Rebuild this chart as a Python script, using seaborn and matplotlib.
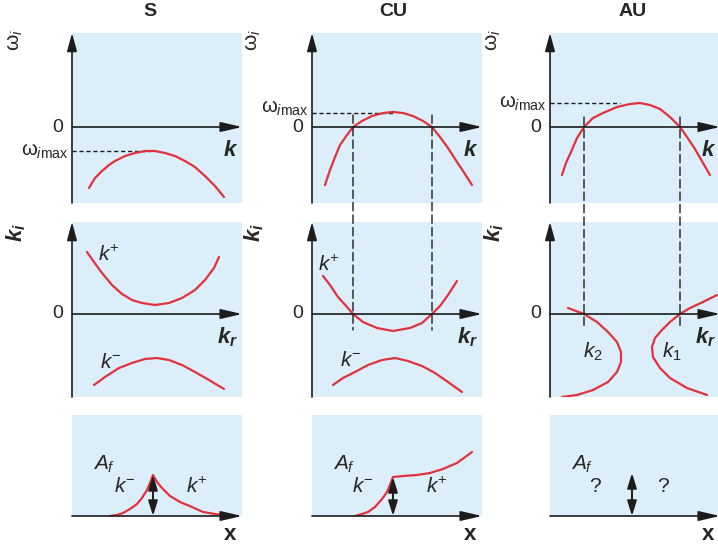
import matplotlib
matplotlib.use("Agg")
import matplotlib.pyplot as plt
import seaborn as sns
from matplotlib.patches import ConnectionPatch

# Values, in panel units (x from the vertical axis,
# y from the zero line, one unit ~ one pixel of the original picture).
columns = ["S", "CU", "AU"]

# top row: omega_i(k)
s_top_k = [17, 23, 30, 37, 43, 53, 63, 73, 83, 93, 103, 113, 123, 133, 143, 152]
s_top_w = [-61, -51, -44, -38, -34, -29, -26, -24, -24, -26, -29, -34, -40, -49, -59, -70]
cu_top_k = [13, 18, 23, 28, 35, 41, 50, 60, 71, 81, 91, 101, 111, 120, 128, 136, 145, 153, 160]
cu_top_w = [-58, -43, -30, -18, -8, 0, 6, 11, 14, 15, 14, 11, 6, 0, -10, -21, -35, -47, -58]
au_top_k = [12, 16, 21, 27, 34, 43, 53, 67, 80, 90, 100, 110, 120, 130, 137, 145, 153, 160]
au_top_w = [-48, -36, -25, -11, 0, 9, 14, 20, 23, 24, 22, 18, 10, 0, -10, -22, -36, -48]
w_imax = [-24, 14, 24]          # level of the dashed omega_imax line
w_imax_end = [78, 81, 70]       # where that dashed line meets the curve

# middle row: k_i(k_r)
s_kp_r = [15, 22, 30, 40, 50, 60, 70, 83, 97, 110, 123, 133, 142, 147]
s_kp_i = [62, 52, 41, 29, 20, 14, 11, 9, 11, 16, 24, 34, 46, 57]
s_km_r = [22, 33, 47, 60, 73, 85, 97, 110, 123, 137, 152]
s_km_i = [-71, -63, -54, -49, -45, -44, -46, -51, -58, -66, -75]
cu_kp_r = [11, 18, 26, 35, 41, 51, 65, 81, 98, 110, 120, 128, 136, 145]
cu_kp_i = [38, 29, 17, 7, 0, -8, -14, -17, -14, -9, 0, 8, 19, 33]
cu_km_r = [21, 31, 43, 56, 70, 83, 96, 110, 123, 136, 150]
cu_km_i = [-71, -64, -58, -51, -46, -44, -47, -52, -59, -68, -78]
au_k2_r = [18, 34, 47, 58, 67, 71, 71, 67, 58, 43, 27, 12]
au_k2_i = [6, 0, -8, -18, -28, -38, -48, -58, -68, -76, -81, -83]
au_k1_r = [167, 153, 140, 130, 120, 112, 105, 102, 103, 110, 120, 137, 157]
au_k1_i = [19, 12, 6, 0, -8, -16, -24, -33, -43, -54, -64, -74, -81]

# unstable k values linking the top and middle rows (CU, AU)
cu_links = [41, 120]
au_links = [34, 130]

# bottom row: A_f(x)
s_af_x = [38, 45, 51, 58, 65, 70, 75, 78, 81, 85, 90, 98, 108, 120, 131, 143, 151]
s_af_y = [0, 1, 3, 7, 12, 18, 26, 33, 41, 34, 28, 20, 14, 9, 4, 2, 1]
cu_af_x = [43, 50, 56, 63, 70, 75, 78, 81, 91, 105, 118, 131, 145, 160]
cu_af_y = [0, 2, 4, 9, 17, 24, 31, 39, 40, 41, 43, 47, 53, 64]
source_x = [81, 81, 82]
source_h = [41, 39, 43]

W, H = 718, 545
col_left = [72, 312, 550]
PANEL_W = 170
rows = [(33, 203, 127), (222, 397, 314), (415, 516, 516)]  # top, bottom, zero (px)

BLUE = "#dceefa"
RED = "#e0323c"
INK = "#1c1c1c"

sns.set_theme(style="white")
plt.rcParams["font.family"] = ["Liberation Sans", "DejaVu Sans"]
plt.rcParams["mathtext.fontset"] = "custom"
plt.rcParams["mathtext.rm"] = "Liberation Sans"
plt.rcParams["mathtext.it"] = "Liberation Sans:italic"
plt.rcParams["mathtext.bf"] = "Liberation Sans:bold"
plt.rcParams["mathtext.bfit"] = "Liberation Sans:italic:bold"

fig = plt.figure(figsize=(W / 100, H / 100), dpi=100)
fig.patch.set_facecolor("white")


def fx(x):
    return x / W


def fy(y):
    return 1 - y / H


def add_panel(col, row):
    top, bottom, zero = rows[row]
    ax = fig.add_axes([fx(col_left[col]), fy(bottom), PANEL_W / W, (bottom - top) / H])
    ax.set_xlim(0, PANEL_W)
    ax.set_ylim(-(bottom - zero), zero - top)
    ax.set_facecolor(BLUE)
    ax.set_xticks([])
    ax.set_yticks([])
    sns.despine(ax=ax, left=True, bottom=True)
    return ax


def arrow(ax, start, end, length=1.1, width=0.3):
    ax.annotate("", xy=end, xytext=start, annotation_clip=False,
                arrowprops=dict(arrowstyle=f"-|>,head_length={length},head_width={width}",
                                mutation_scale=10, color=INK, lw=1.2,
                                shrinkA=0, shrinkB=0))


def curve(ax, xs, ys):
    sns.lineplot(x=xs, y=ys, sort=False, estimator=None, color=RED,
                 lw=1.6, legend=False, ax=ax)


def axes_frame(ax, vertical=True):
    y0, y1 = ax.get_ylim()
    if vertical:
        arrow(ax, (0, y0), (0, y1), length=1.1)
    arrow(ax, (0, 0), (PANEL_W, 0), length=1.3)


label_kw = dict(fontsize=15, ha="center", va="center")
bold_it = dict(fontsize=16, fontweight="bold", style="italic", ha="center", va="center")

top_axes, mid_axes, bot_axes = [], [], []
top_curves = [(s_top_k, s_top_w), (cu_top_k, cu_top_w), (au_top_k, au_top_w)]
for c in range(3):
    ax = add_panel(c, 0)
    axes_frame(ax)
    ax.plot([0, w_imax_end[c]], [w_imax[c], w_imax[c]], color=INK, lw=1,
            ls=(0, (3, 2)))
    curve(ax, *top_curves[c])
    ax.text(-14, 0, "0", fontsize=14, ha="center", va="center")
    dy = 5 if c == 1 else 0
    ax.text(-3, w_imax[c] + dy, r"$\mathrm{\omega}_{i\mathrm{max}}$", fontsize=14.5,
            ha="right", va="center")
    ax.text(158, -23, "k", **bold_it)
    top_axes.append(ax)

for c in range(3):
    ax = add_panel(c, 1)
    axes_frame(ax)
    ax.text(-14, 0, "0", fontsize=14, ha="center", va="center")
    ax.text(156, -23, r"$\mathbfit{k_r}$", fontsize=16, ha="center", va="center")
    mid_axes.append(ax)

curve(mid_axes[0], s_kp_r, s_kp_i)
curve(mid_axes[0], s_km_r, s_km_i)
mid_axes[0].text(37, 59, r"$k^{+}$", **label_kw)
mid_axes[0].text(39, -48, r"$k^{-}$", **label_kw)
curve(mid_axes[1], cu_kp_r, cu_kp_i)
curve(mid_axes[1], cu_km_r, cu_km_i)
mid_axes[1].text(17, 49, r"$k^{+}$", **label_kw)
mid_axes[1].text(39, -46, r"$k^{-}$", **label_kw)
curve(mid_axes[2], au_k2_r, au_k2_i)
curve(mid_axes[2], au_k1_r, au_k1_i)
mid_axes[2].text(43, -38, r"$k_2$", **label_kw)
mid_axes[2].text(122, -38, r"$k_1$", **label_kw)

# dashed links from the zero crossings of omega_i down to the k_r axis
for c, links, y_top, y_bot in [(1, cu_links, 12, -16), (2, au_links, 10, -14)]:
    for k in links:
        fig.add_artist(ConnectionPatch(xyA=(k, y_top), coordsA=top_axes[c].transData,
                                       xyB=(k, y_bot), coordsB=mid_axes[c].transData,
                                       color=INK, lw=1, ls=(0, (6, 3))))

for c in range(3):
    ax = add_panel(c, 2)
    axes_frame(ax, vertical=False)
    ax.text(32, 52, r"$A_f$", **label_kw)
    ax.text(158, -19, "x", fontsize=16, fontweight="bold", ha="center", va="center")
    ax.annotate("", xy=(source_x[c], source_h[c]), xytext=(source_x[c], 0),
                annotation_clip=False,
                arrowprops=dict(arrowstyle="<|-|>,head_length=0.9,head_width=0.28",
                                mutation_scale=10, color=INK, lw=1.4,
                                shrinkA=0, shrinkB=0))
    bot_axes.append(ax)

curve(bot_axes[0], s_af_x, s_af_y)
bot_axes[0].text(53, 29, r"$k^{-}$", **label_kw)
bot_axes[0].text(125, 29, r"$k^{+}$", **label_kw)
curve(bot_axes[1], cu_af_x, cu_af_y)
bot_axes[1].text(51, 29, r"$k^{-}$", **label_kw)
bot_axes[1].text(125, 29, r"$k^{+}$", **label_kw)
bot_axes[2].text(45, 29, "?", **label_kw)
bot_axes[2].text(113, 29, "?", **label_kw)

# column titles and rotated axis names
title_x = [150, 393, 633]
ylabel_x = [15, 253, 493]
for c in range(3):
    fig.text(fx(title_x[c]), fy(12), columns[c], fontsize=14, fontweight="bold",
             ha="center", va="center")
    fig.text(fx(ylabel_x[c]), fy(40), r"$\mathrm{\omega}_i$", fontsize=15,
             rotation=90, ha="center", va="center")
    fig.text(fx(ylabel_x[c] + 1), fy(232), r"$\mathbfit{k_i}$", fontsize=16,
             rotation=90, ha="center", va="center")

fig.savefig("out.png", dpi=100, facecolor="white")
